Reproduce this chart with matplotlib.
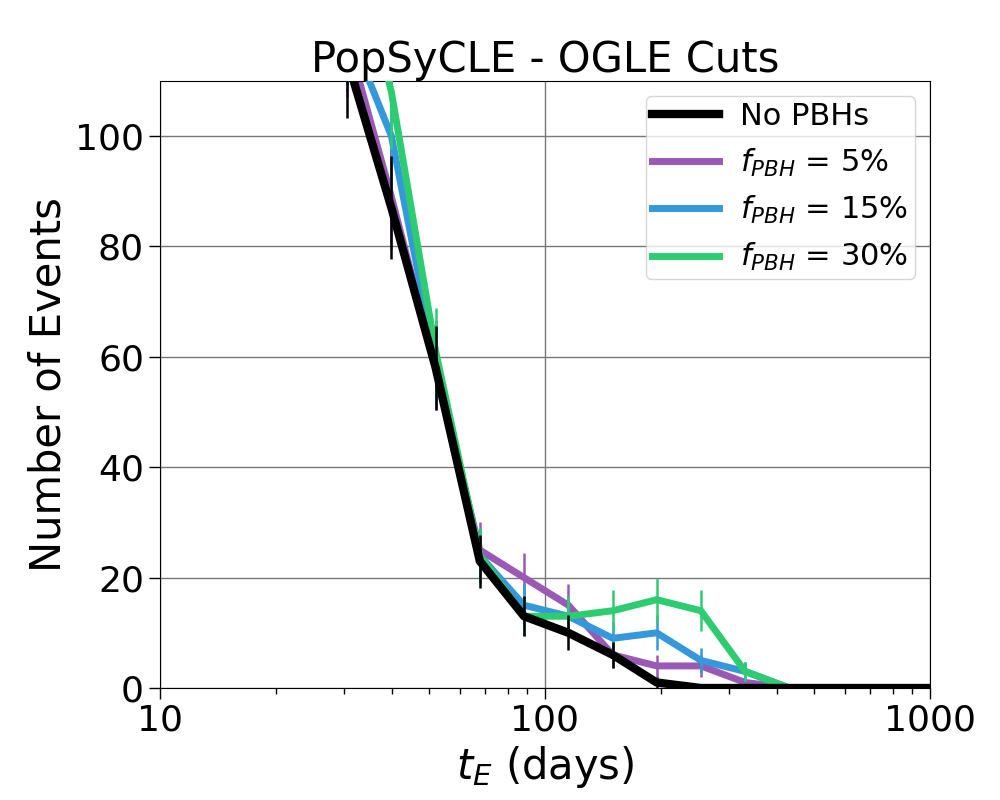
import numpy as np
import matplotlib
matplotlib.use("Agg")
import matplotlib.pyplot as plt
from matplotlib.lines import Line2D

# bin centres (days), log spaced
t_E = [30.6, 39.9, 52.0, 67.7, 88.2, 115, 150, 195, 254, 331, 431, 562, 732, 954, 1243]

# number of events per bin
no_pbh = [114, 87, 58, 23, 13, 10, 6, 1, 0, 0, 0, 0, 0, 0, 0]
no_pbh_err = [10.7, 9.3, 7.6, 4.8, 3.6, 3.2, 2.4, 1.0, 0, 0, 0, 0, 0, 0, 0]

f5 = [118, 89, 58, 25, 20, 15, 6, 4, 4, 1, 0, 0, 0, 0, 0]
f5_err = [10.9, 9.4, 7.6, 5.0, 4.5, 3.9, 2.4, 2.0, 2.0, 1.0, 0, 0, 0, 0, 0]

f15 = [120, 100, 59, 24, 15, 13, 9, 10, 5, 3, 0, 0, 0, 0, 0]
f15_err = [11.0, 10.0, 7.7, 4.9, 3.9, 3.6, 3.0, 3.2, 2.2, 1.7, 0, 0, 0, 0, 0]

f30 = [140, 108, 61, 24, 13, 13, 14, 16, 14, 3, 0, 0, 0, 0, 0]
f30_err = [11.8, 10.4, 7.8, 4.9, 3.6, 3.6, 3.7, 4.0, 3.7, 1.7, 0, 0, 0, 0, 0]

series = [
    (no_pbh, no_pbh_err, 'black', 6, 'No PBHs', 5),
    (f5, f5_err, '#9b59b6', 5, '$f_{PBH}$ = 5%', 2),
    (f15, f15_err, '#3498db', 5, '$f_{PBH}$ = 15%', 3),
    (f30, f30_err, '#2ecc71', 5, '$f_{PBH}$ = 30%', 4),
]

fig = plt.figure(figsize=(10, 8), dpi=100)
ax = fig.add_axes([0.16, 0.14, 0.77, 0.759])

handles = []
for vals, errs, col, lw, lab, z in series:
    ax.errorbar(t_E, vals, yerr=errs, color=col, lw=lw, elinewidth=1.8, zorder=z)
    handles.append(Line2D([], [], color=col, lw=lw, label=lab))

ax.set_xscale('log')
ax.set_xlim(10, 1000)
ax.set_ylim(0, 110)
ax.set_yticks([0, 20, 40, 60, 80, 100])
ax.set_xticks([10, 100, 1000])
ax.set_xticklabels(['10', '100', '1000'])
ax.grid(True, which='major', color='#777777', lw=1)
ax.set_axisbelow(True)

ax.tick_params(which='major', labelsize=26, length=8, width=1)
ax.tick_params(which='minor', length=4.5, width=1)

ax.set_title('PopSyCLE - OGLE Cuts', fontsize=30)
ax.set_xlabel('$t_E$ (days)', fontsize=30)
ax.set_ylabel('Number of Events', fontsize=30)

ax.legend(handles=handles, loc='upper right', fontsize=22, borderpad=0.2,
          handlelength=2.2, handletextpad=0.7, labelspacing=0.5)

fig.savefig('out.png', dpi=100)
